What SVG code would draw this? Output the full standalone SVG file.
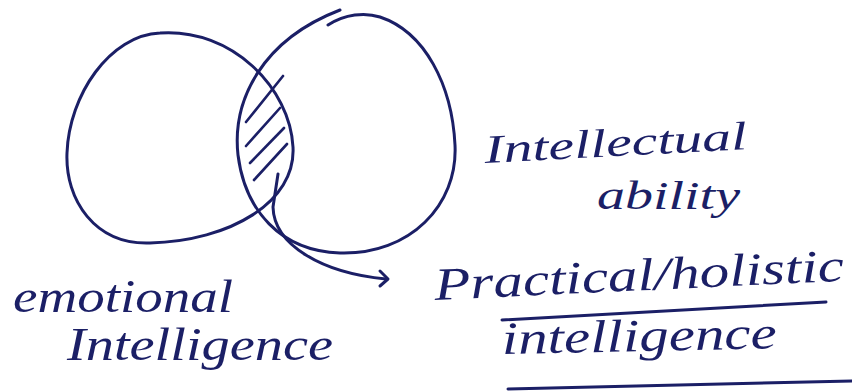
<svg xmlns="http://www.w3.org/2000/svg" width="852" height="391" viewBox="0 0 852 391">
  <defs>
    <style>
      .ink { fill: none; stroke: #1b1f66; stroke-width: 3; stroke-linecap: round; stroke-linejoin: round; }
      .hatch { fill: none; stroke: #1b1f66; stroke-width: 2.6; stroke-linecap: round; }
      .hand { font-family: "Liberation Serif", "DejaVu Serif", serif; font-style: italic; font-size: 46px; fill: #1b1f66; }
      .small { font-size: 40px; }
    </style>
  </defs>
  <rect width="852" height="391" fill="#ffffff"/>

  <g id="emotional-intelligence">
    <path class="ink" d="M 160,33 C 232,28 290,88 293,147 C 296,202 230,241 150,243 C 95,245 65,200 67,153 C 69,95 110,35 160,33 Z"/>
    <text class="hand" x="13" y="312" textLength="220" lengthAdjust="spacingAndGlyphs">emotional</text>
    <text class="hand" x="67" y="360" textLength="266" lengthAdjust="spacingAndGlyphs">Intelligence</text>
  </g>

  <g id="intellectual-ability">
    <path class="ink" d="M 328,25 C 345,14 365,12 380,17 C 425,32 452,85 455,145 C 458,205 410,255 340,253 C 280,251 245,210 238,155 C 232,100 262,40 340,10"/>
    <text class="hand small" x="485" y="163" transform="rotate(-3 485 163)" textLength="263" lengthAdjust="spacingAndGlyphs">Intellectual</text>
    <text class="hand small" x="597" y="209" textLength="143" lengthAdjust="spacingAndGlyphs">ability</text>
  </g>

  <g id="overlap">
    <line class="hatch" x1="246" y1="122" x2="283" y2="76"/>
    <line class="hatch" x1="246" y1="146" x2="280" y2="108"/>
    <line class="hatch" x1="250" y1="163" x2="284" y2="128"/>
    <line class="hatch" x1="254" y1="180" x2="287" y2="144"/>
  </g>

  <g id="practical-holistic-intelligence">
    <text class="hand" x="435" y="300" transform="rotate(-2.7 435 300)" textLength="410" lengthAdjust="spacingAndGlyphs">Practical/holistic</text>
    <line class="ink" x1="502" y1="320" x2="826" y2="302"/>
    <text class="hand" x="502" y="354" transform="rotate(-1.2 502 354)" textLength="275" lengthAdjust="spacingAndGlyphs">intelligence</text>
    <path class="ink" d="M 508,389 L 852,381"/>
  </g>

  <g id="connectors">
    <path class="ink" d="M 278,174 L 273,207 C 274,245 322,273 386,279"/>
    <path class="ink" d="M 380,271 L 388,279 L 380,286"/>
  </g>
</svg>
